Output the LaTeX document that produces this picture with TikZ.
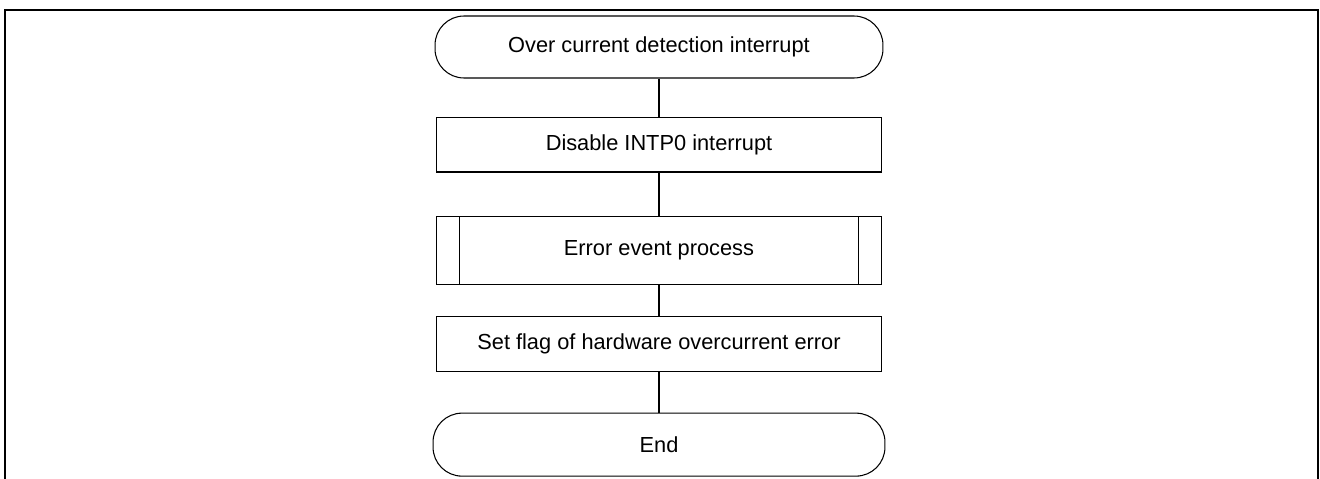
\documentclass[tikz,border=0pt]{standalone}
\usepackage{fontspec}
\setmainfont{Liberation Sans}
\usetikzlibrary{positioning}

\begin{document}
\begin{tikzpicture}[
        x=0.02cm, y=-0.02cm,
        every node/.style={font=\fontsize{12.4}{14}\selectfont},
        terminal/.style={rectangle, rounded corners=0.58cm, draw=black, line width=0.6pt, minimum width=8.96cm, minimum height=1.24cm, text centered},
        process/.style={rectangle, draw=black, line width=0.6pt, minimum width=8.92cm, minimum height=1.1cm, text centered},
        subproc/.style={process, minimum height=1.36cm,
            path picture={
                \draw[line width=0.6pt] ([xshift=0.46cm]path picture bounding box.north west) -- ([xshift=0.46cm]path picture bounding box.south west);
                \draw[line width=0.6pt] ([xshift=-0.46cm]path picture bounding box.north east) -- ([xshift=-0.46cm]path picture bounding box.south east);
            }},
        line/.style={line width=0.6pt},
        frame/.style={line width=1.2pt}
    ]
        \useasboundingbox (0,0) rectangle (1320,479);
        % Frame
        \draw [frame] (5,490) -- (5,10) -- (1318,10) -- (1318,490);

        % Nodes
        \node (start) [terminal] at (659,47) {Over current detection interrupt};
        \node (disable) [process, below=0.76cm of start] {Disable INTP0 interrupt};
        \node (error) [subproc, below=0.86cm of disable] {Error event process};
        \node (setflag) [process, below=0.62cm of error] {Set flag of hardware overcurrent error};
        \node (end) [terminal, minimum width=9.04cm, minimum height=1.26cm, below=0.82cm of setflag] {End};

        % Lines
        \draw [line] (start) -- (disable);
        \draw [line] (disable) -- (error);
        \draw [line] (error) -- (setflag);
        \draw [line] (setflag) -- (end);
    \end{tikzpicture}
\end{document}
